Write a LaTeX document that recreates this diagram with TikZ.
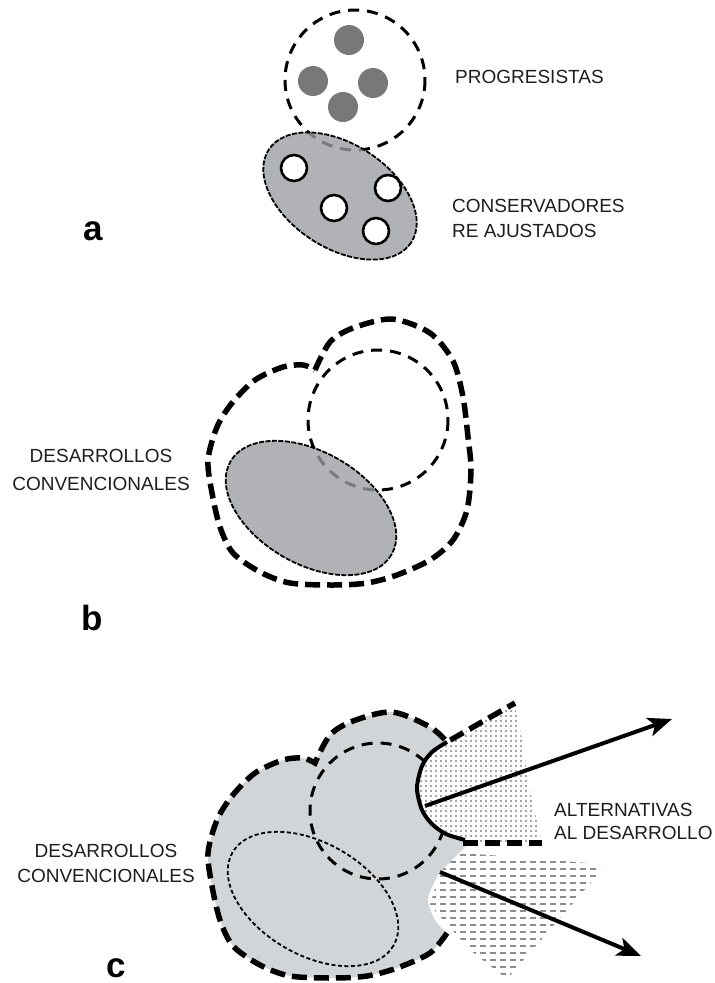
\documentclass[tikz,border=0pt]{standalone}
\usepackage{fontspec}
\setmainfont{Liberation Sans}
\usetikzlibrary{arrows.meta}
\definecolor{dotgray}{RGB}{120,120,120}
\definecolor{ellgray}{RGB}{176,178,181}
\definecolor{lightfill}{RGB}{210,213,216}
\definecolor{txtgray}{RGB}{30,30,30}
\definecolor{patdot}{RGB}{165,165,165}
\definecolor{patdash}{RGB}{140,140,140}
\definecolor{hidden}{RGB}{120,122,125}
\newcommand\cshapepath{plot[smooth] coordinates {(315,763) (330,735) (353,721) (392,712) (430,727) (447,742)}
  -- plot[smooth] coordinates {(447,742) (432,752) (422,766) (417,788) (422,810) (432,824) (446,834) (463,839)}
  -- (470,842) -- plot[smooth] coordinates {(440,872) (428,898) (435,920) (447,933)}
  -- plot[smooth] coordinates {(447,933) (430,953) (397,968) (367,976) (333,978) (290,976) (260,965) (233,946) (220,920) (212,886) (208,853) (217,820) (232,796) (255,773) (283,760) (303,758) (315,763)} -- cycle}
\begin{document}
\begin{tikzpicture}[x=1pt,y=-1pt,
  thickdash/.style={line width=5.5pt, dash pattern=on 15pt off 7pt},
  meddash/.style={line width=3pt, dash pattern=on 11pt off 8pt},
  finedash/.style={line width=1.8pt, dash pattern=on 5pt off 1.5pt},
  thindash/.style={line width=1.8pt, dash pattern=on 4pt off 2.5pt},
  lbl/.style={font=\fontsize{19}{25}\selectfont, text=txtgray, inner sep=0pt},
  letter/.style={font=\fontsize{35}{35}\selectfont\bfseries, inner sep=0pt, anchor=base},
  arrowline/.style={line width=4pt, -{Stealth[length=24pt, width=19pt, inset=6pt]}}]
\useasboundingbox (0,0) rectangle (715,983);

% ---------- part a ----------
\draw[meddash] (355,80) circle[radius=70];
\fill[ellgray, rotate around={-33:(340,196)}] (340,196) ellipse[x radius=85, y radius=52];
\begin{scope}
  \clip[rotate around={-33:(340,196)}] (340,196) ellipse[x radius=85, y radius=52];
  \draw[meddash, draw=hidden] (355,80) circle[radius=70];
\end{scope}
\draw[finedash, rotate around={-33:(340,196)}] (340,196) ellipse[x radius=85, y radius=52];
\foreach \p in {(349,40),(313,81),(373,83),(343,107)}
  \fill[dotgray] \p circle[radius=15];
\foreach \p in {(294,168),(334,208),(388,188),(376,231)}
  \draw[line width=2.6pt, fill=white] \p circle[radius=13];

\node[lbl, anchor=base west] (prog) at (455,83) {PROGRESISTAS};
\node[lbl, anchor=north west, align=left] (cons) at (452,199.5) {CONSERVADORES\\RE AJUSTADOS};
\node[letter] (la) at (93.5,240) {a};

% ---------- part b ----------
\draw[thickdash] plot[smooth] coordinates {(315,370) (330,342) (353,328) (392,319) (430,333) (453,361) (463,397) (468,437) (471,470) (467,510) (453,540) (430,560) (397,575) (367,583) (333,585) (290,583) (260,572) (233,553) (220,527) (212,493) (208,460) (217,427) (232,403) (255,380) (283,367) (303,365) (315,370)};
\draw[meddash] (378,420) circle[radius=70];
\fill[ellgray, rotate around={-30:(311,508)}] (311,508) ellipse[x radius=93, y radius=56];
\begin{scope}
  \clip[rotate around={-30:(311,508)}] (311,508) ellipse[x radius=93, y radius=56];
  \draw[meddash, draw=hidden] (378,420) circle[radius=70];
\end{scope}
\draw[finedash, rotate around={-30:(311,508)}] (311,508) ellipse[x radius=93, y radius=56];

\node[lbl, anchor=north, align=center, font=\fontsize{19}{27.5}\selectfont] (desb) at (101,449.5) {DESARROLLOS\\CONVENCIONALES};
\node[letter] (lb) at (92.5,630) {b};

% ---------- part c ----------
% dotted wedge
\begin{scope}
  \clip (447,742) -- (515,703) -- (522,740) -- (530,790) -- (542,843) -- (463,843) -- (400,800) -- (430,740) -- cycle;
  \foreach \i in {0,...,28}
    \foreach \j in {0,...,30}
      \fill[patdot] (400+5*\i,700+5*\j) rectangle ++(2.2,2.2);
\end{scope}
% dashed-line wedge
\begin{scope}
  \clip (452,852) -- (600,864) -- (600,872) -- (507,979) -- (470,950) -- (430,905) -- (440,872) -- cycle;
  \foreach \j in {0,...,18}
    \draw[patdash, line width=2pt, dash pattern=on 6pt off 4pt] (420,855+7*\j) -- (610,855+7*\j);
\end{scope}
% grey body
\fill[lightfill] \cshapepath;
\begin{scope}
  \clip \cshapepath;
  \draw[meddash] (378,811) circle[radius=68];
\end{scope}
\draw[thindash, rotate around={-30:(313,899)}] (313,899) ellipse[x radius=93, y radius=56];
% outer border and wedge edge
\draw[thickdash] plot[smooth] coordinates {(447,933) (430,953) (397,968) (367,976) (333,978) (290,976) (260,965) (233,946) (220,920) (212,886) (208,853) (217,820) (232,796) (255,773) (283,760) (303,758) (315,763)}
  -- plot[smooth] coordinates {(315,763) (330,735) (353,721) (392,712) (430,727) (447,742)} -- (515,703);
\draw[line width=4pt] plot[smooth] coordinates {(447,742) (432,752) (422,766) (417,788) (422,810) (432,824) (446,834) (465,840)};
\draw[thickdash] (463,843) -- (542,843);

\coordinate (u0) at (425,806);
\coordinate (u1) at (672,719);
\coordinate (l0) at (440,872);
\coordinate (l1) at (641,956);
\draw[arrowline] (u0) -- (u1);
\draw[arrowline] (l0) -- (l1);

\node[lbl, anchor=north west, align=left, font=\fontsize{19}{23}\selectfont] (alt) at (554,803.5) {ALTERNATIVAS\\AL DESARROLLO};
\node[lbl, anchor=north, align=center] (desc) at (106,844.5) {DESARROLLOS\\CONVENCIONALES};
\node[letter] (lc) at (116.5,977) {c};
\end{tikzpicture}
\end{document}
